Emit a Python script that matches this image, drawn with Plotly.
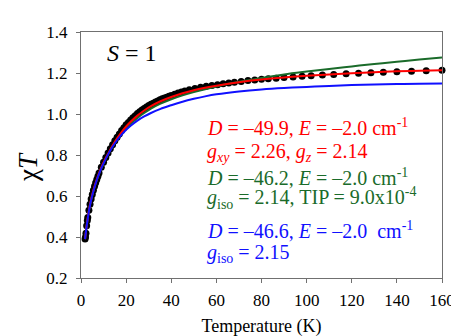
import plotly.graph_objects as go

# Experimental chi*T data
T_data = [1.8, 2.0, 2.2, 2.5, 2.8, 3.0, 3.5, 4.0, 4.5, 5.0, 5.5, 6.0, 6.5, 7.0, 7.5, 8.0,
          9, 10, 11, 12, 13, 14, 15, 16, 17, 18, 19, 20, 21, 22, 23, 24, 25, 26, 27, 28,
          29, 30, 31, 32, 33, 34, 35, 36, 37, 38, 39, 40, 41.5, 43, 44.5, 46, 48, 50.5,
          53, 55.5, 58, 60.5, 63, 65.5, 68, 71, 74, 77, 80, 83, 86.5, 90, 94, 98, 102,
          107, 112, 117.5, 123, 128.5, 134, 140, 146.5, 153, 160]
chiT_data = [0.390, 0.400, 0.418, 0.455, 0.480, 0.495, 0.530, 0.560, 0.585, 0.607, 0.628,
             0.647, 0.665, 0.681, 0.696, 0.712, 0.740, 0.765, 0.788, 0.810, 0.831, 0.850,
             0.869, 0.887, 0.903, 0.919, 0.933, 0.947, 0.959, 0.971, 0.982, 0.992, 1.002,
             1.011, 1.019, 1.027, 1.034, 1.041, 1.047, 1.053, 1.059, 1.064, 1.069, 1.074,
             1.078, 1.082, 1.086, 1.090, 1.096, 1.102, 1.107, 1.112, 1.118, 1.124, 1.130,
             1.135, 1.139, 1.143, 1.147, 1.151, 1.155, 1.159, 1.163, 1.166, 1.169, 1.172,
             1.175, 1.178, 1.181, 1.184, 1.187, 1.190, 1.193, 1.196, 1.199, 1.201, 1.204,
             1.206, 1.209, 1.211, 1.214]

# Fit curves
T_fit = [1.8, 2, 2.5, 3, 3.5, 4, 5, 6, 7, 8, 9, 10, 12, 14, 16, 18, 20, 22, 25, 28, 31,
         35, 40, 45, 50, 55, 60, 70, 80, 90, 100, 110, 120, 130, 140, 150, 160]
fit_red = [0.390, 0.410, 0.455, 0.495, 0.530, 0.560, 0.607, 0.647, 0.681, 0.712, 0.739,
           0.764, 0.806, 0.846, 0.881, 0.912, 0.939, 0.962, 0.992, 1.017, 1.038, 1.061,
           1.083, 1.101, 1.116, 1.128, 1.138, 1.155, 1.168, 1.178, 1.186, 1.193, 1.199,
           1.204, 1.208, 1.211, 1.214]
fit_green = [0.390, 0.410, 0.454, 0.493, 0.528, 0.558, 0.604, 0.643, 0.677, 0.708, 0.735,
             0.760, 0.803, 0.842, 0.876, 0.905, 0.930, 0.952, 0.981, 1.005, 1.026, 1.049,
             1.072, 1.091, 1.107, 1.121, 1.134, 1.157, 1.176, 1.193, 1.207, 1.220, 1.232,
             1.244, 1.255, 1.266, 1.276]
fit_blue = [0.390, 0.408, 0.452, 0.490, 0.525, 0.555, 0.603, 0.643, 0.678, 0.708, 0.735,
            0.759, 0.803, 0.840, 0.872, 0.899, 0.923, 0.943, 0.968, 0.988, 1.005, 1.024,
            1.043, 1.060, 1.074, 1.086, 1.096, 1.110, 1.120, 1.127, 1.132, 1.137, 1.141,
            1.144, 1.146, 1.148, 1.149]

x_ticks = [0, 20, 40, 60, 80, 100, 120, 140, 160]
y_ticks = [0.2, 0.4, 0.6, 0.8, 1.0, 1.2, 1.4]

FONT = "Liberation Serif"
RED = "#ff0000"
GREEN = "#1a6b2a"
BLUE = "#1010ff"

fig = go.Figure()
fig.add_trace(go.Scatter(x=T_data, y=chiT_data, mode="markers",
                         marker=dict(color="black", size=7), cliponaxis=False,
                         showlegend=False))
fig.add_trace(go.Scatter(x=T_fit, y=fit_green, mode="lines",
                         line=dict(color=GREEN, width=2), line_shape="spline", showlegend=False))
fig.add_trace(go.Scatter(x=T_fit, y=fit_red, mode="lines",
                         line=dict(color=RED, width=2), line_shape="spline", showlegend=False))
fig.add_trace(go.Scatter(x=T_fit, y=fit_blue, mode="lines",
                         line=dict(color=BLUE, width=2), line_shape="spline", showlegend=False))

axis_common = dict(showline=True, linecolor="#707070", linewidth=1, mirror=True,
                   ticks="outside", ticklen=4, tickcolor="#707070", showgrid=False,
                   zeroline=False, tickfont=dict(family=FONT, size=17, color="black"))

fig.update_xaxes(range=[0, 160], tickvals=x_ticks, ticklabelstandoff=3,
                 title=dict(text="Temperature (K)", font=dict(family=FONT, size=18, color="black"),
                            standoff=9),
                 **axis_common)
fig.update_yaxes(range=[0.2, 1.4], tickvals=y_ticks, tickformat=".1f", ticklabelstandoff=5,
                 **axis_common)

ann = []
ann.append(dict(x=-0.145, y=0.45, xref="paper", yref="paper", xanchor="center", yanchor="middle",
                text="χ<i>T</i>", textangle=-90, showarrow=False,
                font=dict(family=FONT, size=27, color="black")))
ann.append(dict(x=10.8, y=1.297, xref="x", yref="y", xanchor="left", yanchor="middle",
                text="<i>S</i> = 1", showarrow=False, font=dict(family=FONT, size=24, color="black")))
lines = [
    ("<i>D</i> = –49.9, <i>E</i> = –2.0 cm<sup>-1</sup>", 0.935, RED),
    ("<i>g<sub>xy</sub></i> = 2.26, <i>g<sub>z</sub></i> = 2.14", 0.814, RED),
    ("<i>D</i> = –46.2, <i>E</i> = –2.0 cm<sup>-1</sup>", 0.693, GREEN),
    ("<i>g</i><sub>iso</sub> = 2.14, TIP = 9.0x10<sup>-4</sup>", 0.589, GREEN),
    ("<i>D</i> = –46.6, <i>E</i> = –2.0 &nbsp;cm<sup>-1</sup>", 0.436, BLUE),
    ("<i>g</i><sub>iso</sub> = 2.15", 0.320, BLUE),
]
for txt, yv, col in lines:
    ann.append(dict(x=55.0, y=yv, xref="x", yref="y", xanchor="left", yanchor="middle",
                    text=txt, showarrow=False, font=dict(family=FONT, size=20, color=col)))

fig.update_layout(width=459, height=336, margin=dict(l=73, r=18, t=24, b=54),
                  plot_bgcolor="white", paper_bgcolor="white", annotations=ann,
                  font=dict(family=FONT))

fig.write_html("out.html")
